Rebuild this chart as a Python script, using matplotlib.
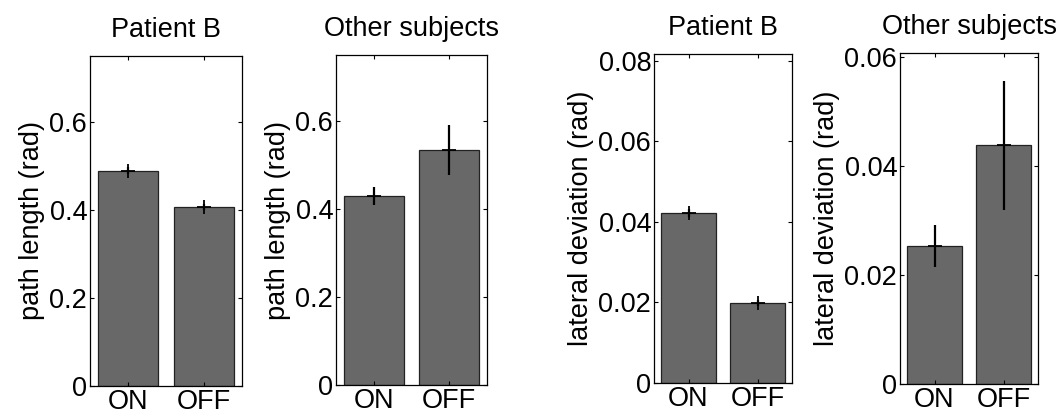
import matplotlib
matplotlib.use("Agg")
import matplotlib.pyplot as plt

plt.rcParams['font.family'] = ['Liberation Sans', 'DejaVu Sans']

conditions = ["ON", "OFF"]

path_patient = [0.489, 0.407]
path_patient_err = [0.008, 0.007]
path_others = [0.430, 0.535]
path_others_err = [0.020, 0.057]

lat_patient = [0.0422, 0.0199]
lat_patient_err = [0.0010, 0.0008]
lat_others = [0.0253, 0.0438]
lat_others_err = [0.0038, 0.0118]

titles = ["Patient B", "Other subjects", "Patient B", "Other subjects"]
ylabels = ["path length (rad)", "path length (rad)",
           "lateral deviation (rad)", "lateral deviation (rad)"]
yticks = [[0, 0.2, 0.4, 0.6], [0, 0.2, 0.4, 0.6],
          [0, 0.02, 0.04, 0.06, 0.08], [0, 0.02, 0.04, 0.06]]
ytick_labels = [["0", "0.2", "0.4", "0.6"], ["0", "0.2", "0.4", "0.6"],
                ["0", "0.02", "0.04", "0.06", "0.08"], ["0", "0.02", "0.04", "0.06"]]
ylims = [0.75, 0.75, 0.0817, 0.0607]

values = [path_patient, path_others, lat_patient, lat_others]
errors = [path_patient_err, path_others_err, lat_patient_err, lat_others_err]

W, H = 1063, 416
fig = plt.figure(figsize=(W / 100, H / 100), dpi=100)
fig.patch.set_facecolor("white")

boxes = [(90, 242, 56, 386), (336, 487, 55, 385), (654, 792, 54, 383), (900, 1038, 53, 384)]

fs = 19.5
for i, (l, r, t, b) in enumerate(boxes):
    ax = fig.add_axes([l / W, (H - b) / H, (r - l) / W, (b - t) / H])
    x = [1, 2]
    ax.bar(x, values[i], width=0.8, color="#686868", edgecolor="#222222", linewidth=0.9)
    ax.errorbar(x, values[i], yerr=errors[i], fmt='+', color='black',
                markersize=10, markeredgewidth=1.3, elinewidth=1.6, capsize=0)
    ax.set_xlim(0.5, 2.5)
    ax.set_ylim(0, ylims[i])
    ax.set_xticks(x)
    ax.set_xticklabels(conditions, fontsize=fs)
    ax.set_yticks(yticks[i])
    ax.set_yticklabels(ytick_labels[i], fontsize=fs)
    ax.tick_params(direction='in', length=3, width=0.8, top=True, right=True, pad=2)
    for s in ax.spines.values():
        s.set_linewidth(0.9)
    ax.set_ylabel(ylabels[i], fontsize=fs, labelpad=3)
    ax.set_title(titles[i], fontsize=fs, pad=14)

fig.savefig("out.png", dpi=100, facecolor="white")
